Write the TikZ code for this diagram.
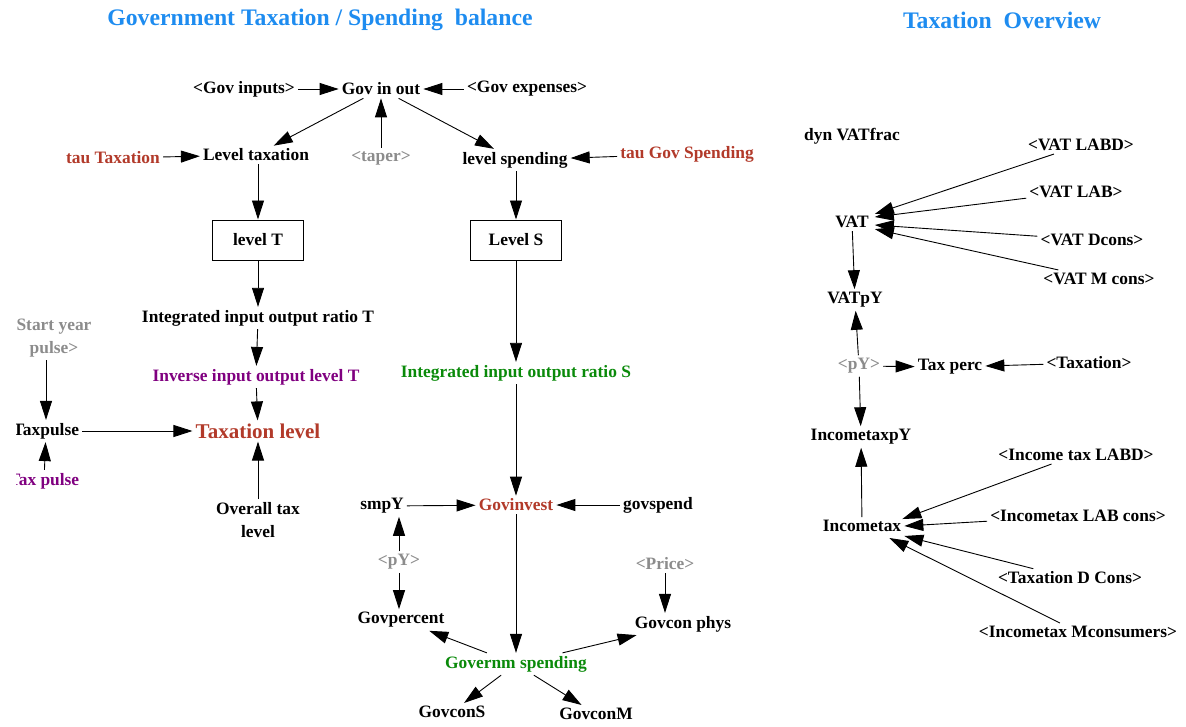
\documentclass[tikz,border=0pt]{standalone}
\usepackage{fontspec}
\setmainfont{Liberation Serif}
\usetikzlibrary{arrows.meta,calc}
\definecolor{vred}{HTML}{B23A2A}
\definecolor{vpurple}{HTML}{800080}
\definecolor{vgreen}{HTML}{0A8A0A}
\definecolor{vgray}{HTML}{8C8C8C}
\definecolor{vblue}{HTML}{1E8CF0}
\tikzset{
  var/.style={font=\fontsize{17.4}{19}\selectfont\bfseries, inner sep=3pt, align=center},
  shadow/.style={var, text=vgray},
  redv/.style={var, text=vred},
  purv/.style={var, text=vpurple},
  grnv/.style={var, text=vgreen},
  stock/.style={var, draw, line width=1pt, minimum width=91pt, minimum height=40pt},
  ttl/.style={font=\fontsize{23.7}{26}\selectfont\bfseries, text=vblue},
  link/.style={line width=0.9pt, -{Triangle[length=19pt,width=12pt]}},
}
\begin{document}
\begin{tikzpicture}[x=1pt,y=-1pt]
\useasboundingbox (0,0) rectangle (1186,726);
% titles
\node[ttl] (t1) at (320,20) {Government Taxation / Spending\ \ balance};
\node[ttl] (t2) at (1002,20) {Taxation\ \ Overview};
% left part
\node[var] (govinputs) at (244,89) {<Gov inputs>};
\node[var] (govinout) at (381,89) {Gov in out};
\node[var] (govexp) at (527,89) {<Gov expenses>};
\node[redv] (tautax) at (113,158) {tau Taxation};
\node[var] (leveltax) at (256,155) {Level taxation};
\node[shadow] (taper) at (381,158) {<taper>};
\node[var] (levelspend) at (515,160) {level spending};
\node[redv] (taugov) at (687,154) {tau Gov Spending};
\node[stock] (levelT) at (258,240) {level T};
\node[stock] (levelS) at (516,240) {Level S};
\node[var] (intT) at (258,318) {Integrated input output ratio T};
\node[shadow, font=\fontsize{17.4}{23}\selectfont\bfseries] (startyear) at (54,338) {Start year\\pulse>};
\node[purv] (invT) at (256,377) {Inverse input output level T};
\node[grnv] (intS) at (516,373) {Integrated input output ratio S};
\begin{scope}
\clip (16,0) rectangle (1186,726);
\node[var] (taxpulse) at (46,431) {Taxpulse};
\node[purv] (taxpulse2) at (44,481) {Tax pulse};
\end{scope}
\node[redv, font=\fontsize{21}{23}\selectfont\bfseries] (taxlevel) at (258,431) {Taxation level};
\node[var, font=\fontsize{17.4}{23}\selectfont\bfseries] (overall) at (258,520) {Overall tax\\level};
\node[var] (smpY) at (382,506) {smpY};
\node[redv] (govinvest) at (516,505) {Govinvest};
\node[var] (govspend) at (658,505) {govspend};
\node[shadow] (pY1) at (399,562) {<pY>};
\node[shadow] (price) at (665,564) {<Price>};
\node[var] (govpercent) at (401,620) {Govpercent};
\node[var] (govconphys) at (683,624) {Govcon phys};
\node[grnv] (governm) at (516,664) {Governm spending};
\node[var] (govconS) at (452,712) {GovconS};
\node[var] (govconM) at (596,714) {GovconM};
% right part
\node[var] (dynvat) at (852,136) {dyn VATfrac};
\node[var] (vatlabd) at (1081,145) {<VAT LABD>};
\node[var] (vatlab) at (1076,192) {<VAT LAB>};
\node[var] (vat) at (852,222) {VAT};
\node[var] (vatdcons) at (1092,240) {<VAT Dcons>};
\node[var] (vatmcons) at (1099,279) {<VAT M cons>};
\node[var] (vatpy) at (855,300) {VATpY};
\node[shadow] (pY2) at (859,366) {<pY>};
\node[var] (taxperc) at (950,367) {Tax perc};
\node[var] (taxation) at (1089,363) {<Taxation>};
\node[var] (incpy) at (861,437) {IncometaxpY};
\node[var] (inclabd) at (1076,455) {<Income tax LABD>};
\node[var] (inctax) at (862,526) {Incometax};
\node[var] (inclabcons) at (1078,516) {<Incometax LAB cons>};
\node[var] (taxdcons) at (1070,578) {<Taxation D Cons>};
\node[var] (incmcons) at (1078,632) {<Incometax Mconsumers>};
% connectors left
\draw[link] (govinputs) -- (govinout);
\draw[link] (govexp) -- (govinout);
\draw[link] (govinout) -- (leveltax);
\draw[link] (taper) -- (govinout);
\draw[link] (govinout) -- (levelspend);
\draw[link] (tautax) -- (leveltax);
\draw[link] (taugov) -- (levelspend);
\draw[link] (levelT |- leveltax.south) -- (levelT);
\draw[link] (levelS |- levelspend.south) -- (levelS);
\draw[link] (levelT) -- (intT);
\draw[link] (intT) -- (invT);
\draw[link] (invT) -- (taxlevel);
\draw[link] (overall) -- (taxlevel);
\draw[link] (taxpulse) -- (taxlevel);
\draw[link] (taxpulse.north |- startyear.south) -- (taxpulse.north);
\draw[link] (taxpulse2) -- (taxpulse);
\draw[link] (levelS) -- (intS);
\draw[link] (intS) -- (govinvest);
\draw[link] (smpY) -- (govinvest);
\draw[link] (govspend) -- (govinvest);
\draw[link] (pY1) -- (pY1 |- smpY.south);
\draw[link] (pY1) -- (pY1 |- govpercent.north);
\draw[link] (govinvest) -- (governm);
\draw[link] (governm) -- (govpercent);
\draw[link] (governm) -- (govconphys);
\draw[link] (price) -- (price |- govconphys.north);
\draw[link] (governm) -- (govconS);
\draw[link] (governm) -- (govconM);
% connectors right
\draw[link] (vatlabd) -- ($(vat.north east)+(3,1)$);
\draw[link] (vatlab) -- ($(vat.east)+(3,-5)$);
\draw[link] (vatdcons) -- ($(vat.east)+(3,3)$);
\draw[link] (vatmcons) -- ($(vat.south east)+(3,-2)$);
\draw[link] (vat) -- (vatpy);
\draw[link] (pY2) -- (vatpy);
\draw[link] (pY2) -- (taxperc);
\draw[link] (taxation) -- (taxperc);
\draw[link] (pY2) -- (incpy);
\draw[link] (inctax) -- (incpy);
\draw[link] (inclabd) -- ($(inctax.north east)+(-2,2)$);
\draw[link] (inclabcons) -- (inctax.east);
\draw[link] (taxdcons) -- ($(inctax.south east)+(0,1)$);
\draw[link] (incmcons) -- ($(inctax.south east)+(-15,3)$);
\end{tikzpicture}
\end{document}
